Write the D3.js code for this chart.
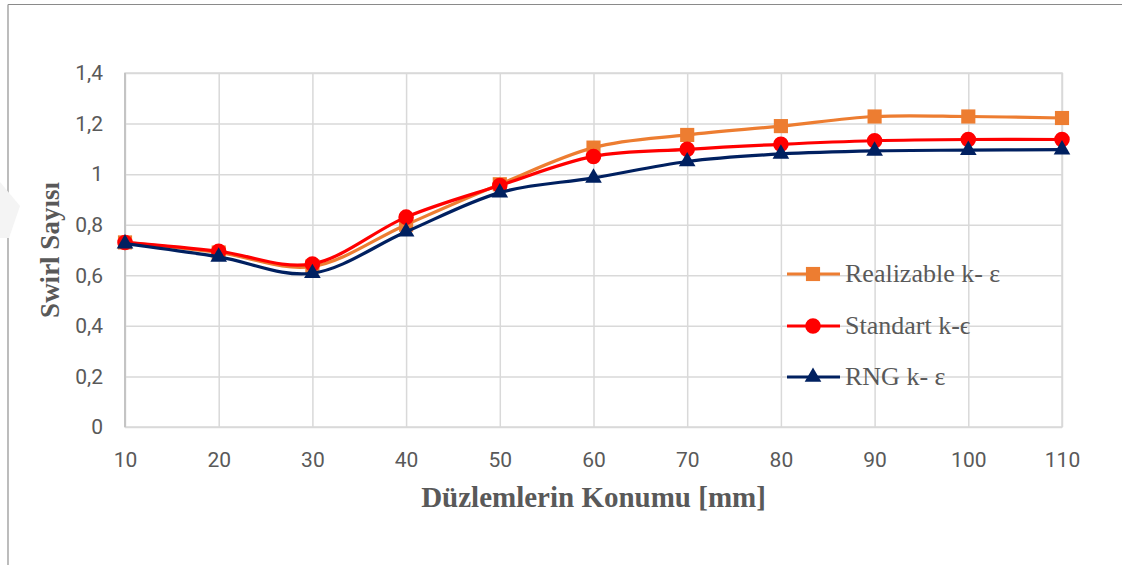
<!DOCTYPE html>
<html>
<head>
<meta charset="utf-8">
<script src="https://cdn.jsdelivr.net/npm/d3@7"></script>
<style>
  body { margin: 0; background: #fff; }
  svg { display: block; }
</style>
</head>
<body>
<svg id="chart" width="1122" height="565"></svg>
<script>
// data
let positions = [10, 20, 30, 40, 50, 60, 70, 80, 90, 100, 110]
let realizable = [0.73, 0.69, 0.635, 0.80, 0.96, 1.105, 1.155, 1.19, 1.228, 1.228, 1.222]
let standart = [0.73, 0.695, 0.645, 0.83, 0.955, 1.07, 1.098, 1.118, 1.132, 1.137, 1.137]
let rng = [0.725, 0.673, 0.608, 0.772, 0.927, 0.985, 1.05, 1.08, 1.092, 1.095, 1.097]

let yTicks = [0, 0.2, 0.4, 0.6, 0.8, 1, 1.2, 1.4]
let yTickLabels = ["0", "0,2", "0,4", "0,6", "0,8", "1", "1,2", "1,4"]

let seriesNames = ["Realizable k- \u03b5", "Standart k-\u03f5", "RNG k- \u03b5"]

let margins = {top: 73, right: 60, bottom: 138, left: 125}
let graphWidth = 1122 - margins.left - margins.right
let graphHeight = 565 - margins.top - margins.bottom

let svg = d3.select("#chart")

// outer frame (top + left edge of the pasted picture)
svg.append("line").attr("x1", 8).attr("x2", 1122).attr("y1", 4.5).attr("y2", 4.5)
   .attr("stroke", "#8a8a8a").attr("stroke-width", 1.2)
svg.append("line").attr("x1", 8).attr("x2", 8).attr("y1", 4.5).attr("y2", 565)
   .attr("stroke", "#999").attr("stroke-width", 1.3)

// faint watermark piece on the left
svg.append("path").attr("d", "M0,182 L20,206 L9,238 L0,238 Z").attr("fill", "#f4f4f4")

let g = svg.append("g").attr("transform", `translate(${margins.left},${margins.top})`)

let x = d3.scaleLinear().domain([10, 110]).range([0, graphWidth])
let y = d3.scaleLinear().domain([0, 1.4]).range([graphHeight, 0])

let yAxis = g.append("g")
  .call(d3.axisLeft(y).tickValues(yTicks).tickSize(-graphWidth).tickPadding(22)
    .tickFormat(function(d, i){ return yTickLabels[i] }))
let xAxis = g.append("g").attr("transform", `translate(0,${graphHeight})`)
  .call(d3.axisBottom(x).tickValues(positions).tickSize(-graphHeight).tickPadding(25)
    .tickFormat(function(d){ return d }))

g.selectAll(".domain").remove()
g.selectAll(".tick line").attr("stroke", "#d9d9d9").attr("stroke-width", 1.5)
g.selectAll(".tick text")
  .attr("fill", "#595959")
  .style("font-family", "Roboto, 'Open Sans', sans-serif")
  .style("font-size", "21px")

// plot border
g.append("rect").attr("width", graphWidth).attr("height", graphHeight)
  .attr("fill", "none").attr("stroke", "#d9d9d9").attr("stroke-width", 1.5)
g.append("line").attr("x1", 0).attr("x2", 0).attr("y1", 0).attr("y2", graphHeight)
  .attr("stroke", "#c4c4c4").attr("stroke-width", 2)

let series = [
  {name: seriesNames[0], values: realizable, color: "#ED7D31", marker: d3.symbolSquare, size: 200},
  {name: seriesNames[1], values: standart, color: "#FF0000", marker: d3.symbolCircle, size: 190},
  {name: seriesNames[2], values: rng, color: "#002060", marker: d3.symbolTriangle, size: 120}
]

let line = d3.line()
  .x(function(d, i){ return x(positions[i]) })
  .y(function(d){ return y(d) })
  .curve(d3.curveCardinal.tension(0))

series.forEach(function(s){
  g.append("path")
   .datum(s.values)
   .attr("d", line)
   .attr("fill", "none")
   .attr("stroke", s.color)
   .attr("stroke-width", 3.2)

  g.selectAll(null)
   .data(s.values)
   .enter()
   .append("path")
   .attr("d", d3.symbol().type(s.marker).size(s.size))
   .attr("transform", function(d, i){ return `translate(${x(positions[i])},${y(d)})` })
   .attr("fill", s.color)
})

// legend
let legendRows = [274, 326, 377]
series.forEach(function(s, i){
  let row = svg.append("g").attr("transform", `translate(787,${legendRows[i]})`)
  row.append("line").attr("x1", 0).attr("x2", 53).attr("y1", 0).attr("y2", 0)
     .attr("stroke", s.color).attr("stroke-width", 3.2)
  row.append("path").attr("d", d3.symbol().type(s.marker).size(s.size))
     .attr("transform", "translate(26,0)").attr("fill", s.color)
  row.append("text").attr("x", 58).attr("y", 8)
     .text(s.name)
     .attr("fill", "#595959")
     .style("font-family", "'Liberation Serif', 'DejaVu Serif', serif")
     .style("font-size", "26px")
})

// axis titles
svg.append("text")
  .attr("x", margins.left + graphWidth / 2).attr("y", 507)
  .attr("text-anchor", "middle")
  .attr("fill", "#595959")
  .style("font-family", "'Liberation Serif', serif")
  .style("font-weight", "bold")
  .style("font-size", "29px")
  .text("Düzlemlerin Konumu [mm]")

svg.append("text")
  .attr("transform", "translate(59,250) rotate(-90)")
  .attr("text-anchor", "middle")
  .attr("fill", "#595959")
  .style("font-family", "'Liberation Serif', serif")
  .style("font-weight", "bold")
  .style("font-size", "27px")
  .text("Swirl Sayısı")
</script>
</body>
</html>
